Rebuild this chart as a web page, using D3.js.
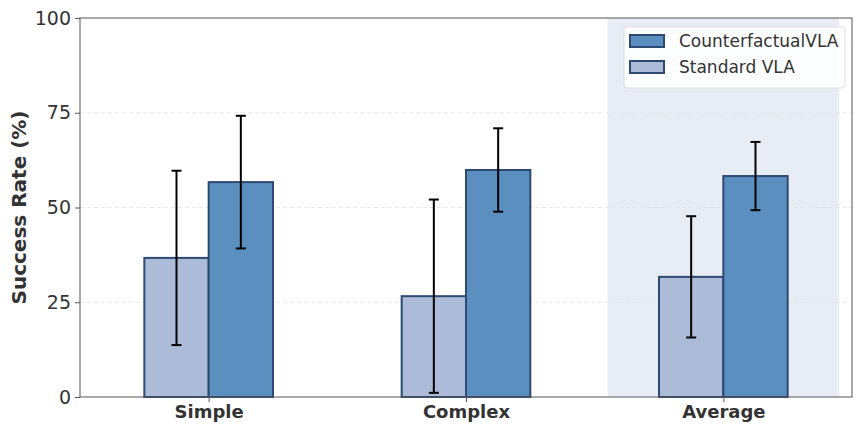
<!DOCTYPE html>
<html>
<head>
<meta charset="utf-8">
<script src="https://cdn.jsdelivr.net/npm/d3@7"></script>
<style>
  body { margin: 0; background: #fff; }
  text { font-family: "DejaVu Sans", sans-serif; }
</style>
</head>
<body>
<div id="chart"></div>
<script>
const categories = ['Simple', 'Complex', 'Average'];
const series = ['Standard VLA', 'CounterfactualVLA'];
const standardVals = [36.7, 26.6, 31.7];
const standardErr = [23.0, 25.5, 16.0];
const cfVals = [56.7, 59.9, 58.3];
const cfErr = [17.5, 11.0, 9.0];
const yTicks = [0, 25, 50, 75, 100];

const width = 864, height = 432;
const margin = {top: 18, right: 12, bottom: 35, left: 80};
const colors = {'Standard VLA': '#abbbd8', 'CounterfactualVLA': '#5b8fbf'};
const edge = '#2e4a72';

const svg = d3.select('#chart').append('svg')
  .attr('width', width)
  .attr('height', height);

const x = d3.scaleLinear().domain([-0.5, 2.5]).range([margin.left, width - margin.right]);
const y = d3.scaleLinear().domain([0, 100]).range([height - margin.bottom, margin.top]);
const barW = 0.25;

// highlight behind the average group
svg.append('rect')
  .attr('x', x(1.55)).attr('y', y(100))
  .attr('width', x(2.45) - x(1.55)).attr('height', y(0) - y(100))
  .attr('fill', '#e8edf5');

// grid
svg.append('g').selectAll('line')
  .data(yTicks.filter(d => d > 0 && d < 100))
  .enter().append('line')
  .attr('x1', x(-0.5)).attr('x2', x(2.5))
  .attr('y1', d => y(d)).attr('y2', d => y(d))
  .attr('stroke', '#e2e2e2').attr('stroke-dasharray', '4,3').attr('stroke-width', 0.8);

const rows = [];
categories.forEach((c, i) => {
  rows.push({i, s: 'Standard VLA', v: standardVals[i], e: standardErr[i], off: -barW / 2});
  rows.push({i, s: 'CounterfactualVLA', v: cfVals[i], e: cfErr[i], off: barW / 2});
});

svg.append('g').selectAll('rect')
  .data(rows)
  .enter().append('rect')
  .attr('x', d => x(d.i + d.off - barW / 2))
  .attr('y', d => y(d.v))
  .attr('width', d => x(barW) - x(0))
  .attr('height', d => y(0) - y(d.v))
  .attr('fill', d => colors[d.s])
  .attr('stroke', edge).attr('stroke-width', 2);

// error bars
const eb = svg.append('g').attr('stroke', '#000').attr('stroke-width', 2);
rows.forEach(d => {
  const cx = x(d.i + d.off);
  eb.append('line').attr('x1', cx).attr('x2', cx).attr('y1', y(d.v + d.e)).attr('y2', y(d.v - d.e));
  [d.v + d.e, d.v - d.e].forEach(v => {
    eb.append('line').attr('x1', cx - 5).attr('x2', cx + 5).attr('y1', y(v)).attr('y2', y(v));
  });
});

// axes
const yAxis = svg.append('g')
  .attr('transform', `translate(${margin.left},0)`)
  .call(d3.axisLeft(y).tickValues(yTicks).tickSize(5).tickPadding(4));
yAxis.select('.domain').remove();
yAxis.selectAll('text').attr('font-size', 19).attr('fill', '#333');
yAxis.selectAll('line').attr('stroke', '#555');

const xAxis = svg.append('g')
  .attr('transform', `translate(0,${y(0)})`)
  .call(d3.axisBottom(x).tickValues([0, 1, 2]).tickFormat(i => categories[i]).tickSize(5).tickPadding(3));
xAxis.select('.domain').remove();
xAxis.selectAll('text').attr('font-size', 18).attr('font-weight', 'bold').attr('fill', '#333');
xAxis.selectAll('line').attr('stroke', '#555');

// frame
svg.append('rect')
  .attr('x', x(-0.5)).attr('y', y(100))
  .attr('width', x(2.5) - x(-0.5)).attr('height', y(0) - y(100))
  .attr('fill', 'none').attr('stroke', '#555').attr('stroke-width', 1);

svg.append('text')
  .attr('transform', `translate(26,${(y(0) + y(100)) / 2}) rotate(-90)`)
  .attr('text-anchor', 'middle')
  .attr('font-size', 20).attr('font-weight', 'bold').attr('fill', '#333')
  .text('Success Rate (%)');

// legend
const lg = svg.append('g').attr('transform', 'translate(624,27)');
lg.append('rect').attr('width', 221).attr('height', 61).attr('rx', 3)
  .attr('fill', '#fff').attr('fill-opacity', 0.85).attr('stroke', '#ddd');
['CounterfactualVLA', 'Standard VLA'].forEach((s, k) => {
  lg.append('rect').attr('x', 6).attr('y', 8 + k * 26).attr('width', 34).attr('height', 12)
    .attr('fill', colors[s]).attr('stroke', edge).attr('stroke-width', 2);
  lg.append('text').attr('x', 55).attr('y', 20 + k * 26)
    .attr('font-size', 17).attr('fill', '#333').text(s);
});
</script>
</body>
</html>
